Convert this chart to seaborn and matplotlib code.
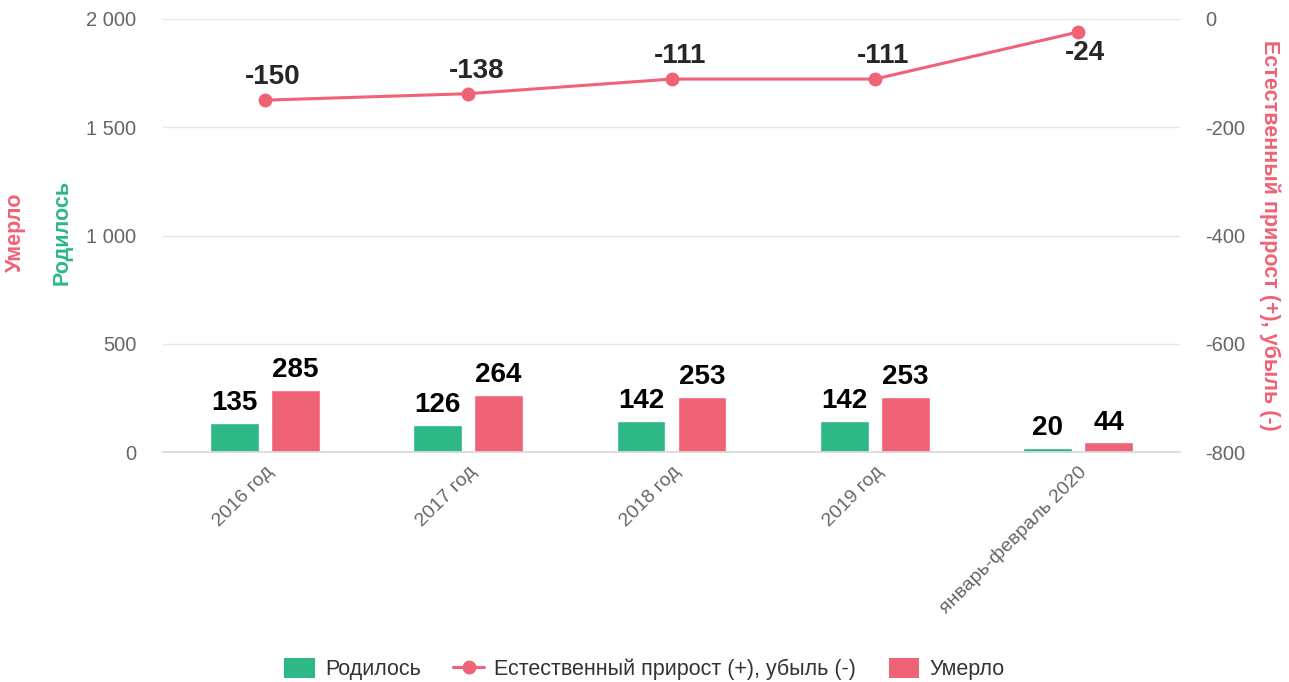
import pandas as pd
import numpy as np
import matplotlib.pyplot as plt
import seaborn as sns
from matplotlib.lines import Line2D
from matplotlib.patches import Patch
from matplotlib.ticker import FuncFormatter, FixedLocator

categories = ['2016 год', '2017 год', '2018 год', '2019 год', 'январь-февраль 2020']
born = [135, 126, 142, 142, 20]
died = [285, 264, 253, 253, 44]
natural = [-150, -138, -111, -111, -24]

GREEN = '#2db886'
RED = '#f06275'
GREY_TXT = '#666666'

sns.set_style('white')
plt.rcParams['font.family'] = ['Liberation Sans', 'DejaVu Sans']
plt.rcParams['axes.unicode_minus'] = False

df = pd.DataFrame({
    'cat': categories * 2,
    'series': ['Родилось'] * len(categories) + ['Умерло'] * len(categories),
    'value': born + died,
})

fig = plt.figure(figsize=(12.89, 6.82), dpi=100)
ax = fig.add_axes([163 / 1289, 1 - 452 / 682, (1180 - 163) / 1289, (452 - 19) / 682])

sns.barplot(data=df, x='cat', y='value', hue='series', hue_order=['Родилось', 'Умерло'],
            palette=[GREEN, RED], width=0.6, gap=0.2, ax=ax, legend=False, saturation=1)

for cont in ax.containers:
    ax.bar_label(cont, padding=5, fontsize=20, fontweight='bold', color='black')

ax.set_ylim(0, 2000)
ax.set_xlim(-0.5, len(categories) - 0.5)
ax.set_yticks([0, 500, 1000, 1500, 2000])
ax.yaxis.set_major_formatter(FuncFormatter(lambda v, p: f'{int(v):,}'.replace(',', ' ')))
ax.grid(axis='y', color='#e6e6e6', linewidth=1)
ax.set_axisbelow(True)
ax.set_xlabel('')
ax.set_ylabel('')
for s in ['left', 'right', 'top']:
    ax.spines[s].set_visible(False)
ax.spines['bottom'].set_color('#d8d8d8')
ax.spines['bottom'].set_linewidth(1.2)
ax.tick_params(axis='y', length=0, pad=19, labelsize=14.5, labelcolor=GREY_TXT)
ax.tick_params(axis='x', which='major', length=0, pad=8)
ax.xaxis.set_minor_locator(FixedLocator(np.arange(-0.5, len(categories), 1.0)))
ax.tick_params(axis='x', which='minor', length=8, width=1.2, color='#d8d8d8')
ax.set_xticks(range(len(categories)))
ax.set_xticklabels(categories, rotation=45, ha='right', rotation_mode='anchor',
                   fontsize=14, color=GREY_TXT)

ax2 = ax.twinx()
x_idx = np.arange(len(categories))
sns.lineplot(x=x_idx, y=natural, ax=ax2, color=RED, linewidth=2.2, marker='o',
             markersize=10, markeredgewidth=0, legend=False)
ax2.set_ylim(-800, 0)
ax2.set_yticks([-800, -600, -400, -200, 0])
ax2.tick_params(axis='y', length=0, pad=18, labelsize=14.5, labelcolor=GREY_TXT)
for s in ['left', 'right', 'top', 'bottom']:
    ax2.spines[s].set_visible(False)
ax2.grid(False)
for xi, v in zip(x_idx, natural):
    if v > -60:
        ax2.annotate(str(v), (xi, v), xytext=(5, -6), textcoords='offset points',
                     ha='center', va='top', fontsize=20, fontweight='bold')
    else:
        ax2.annotate(str(v), (xi, v), xytext=(6, 7), textcoords='offset points',
                     ha='center', va='bottom', fontsize=20, fontweight='bold')

fig.text(15 / 1289, 1 - 232 / 682, 'Умерло', rotation=90, ha='center', va='center',
         color=RED, fontsize=15.5, fontweight='bold')
fig.text(62 / 1289, 1 - 232 / 682, 'Родилось', rotation=90, ha='center', va='center',
         color=GREEN, fontsize=15.5, fontweight='bold')
fig.text(1270 / 1289, 1 - 235 / 682, 'Естественный прирост (+), убыль (-)', rotation=270,
         ha='center', va='center', color=RED, fontsize=15.5, fontweight='bold')

handles = [
    Patch(facecolor=GREEN, edgecolor='none'),
    Line2D([0], [0], color=RED, linewidth=2.2, marker='o', markersize=9),
    Patch(facecolor=RED, edgecolor='none'),
]
labels = ['Родилось', 'Естественный прирост (+), убыль (-)', 'Умерло']
fig.legend(handles, labels, loc='center', bbox_to_anchor=(0.5, 1 - 669 / 682), ncol=3,
           frameon=False, fontsize=15.5, handlelength=1.4, handleheight=1.1,
           handletextpad=0.5, columnspacing=1.5, labelcolor='#333333')

fig.savefig('out.png', dpi=100)
